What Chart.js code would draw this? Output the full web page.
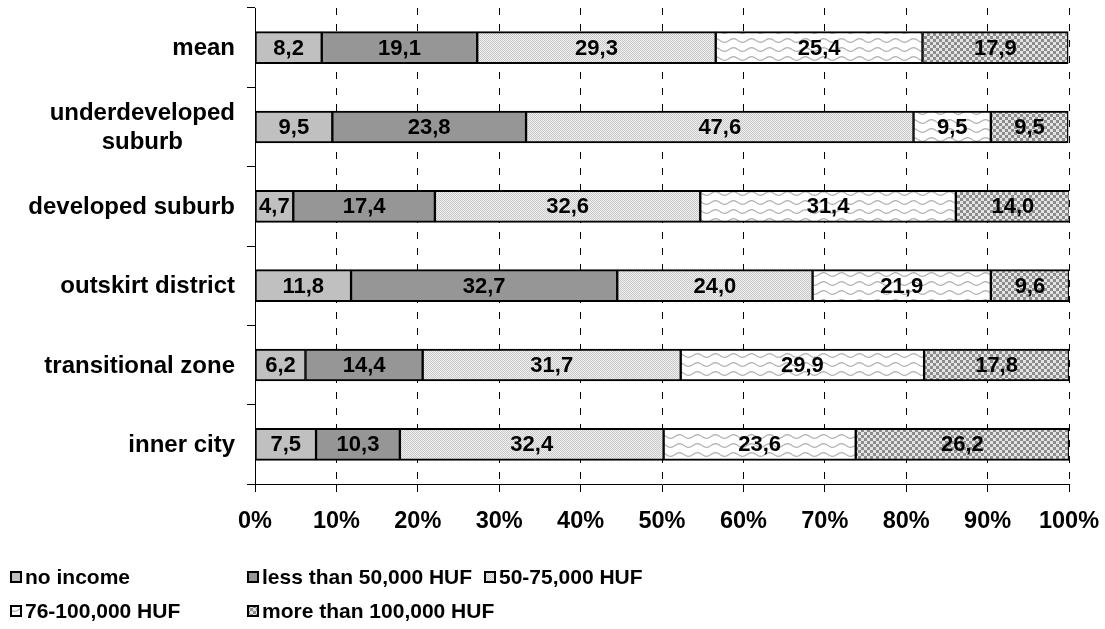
<!DOCTYPE html>
<html><head><meta charset="utf-8">
<script src="https://cdn.jsdelivr.net/npm/chart.js@4"></script>
<style>
html,body{margin:0;padding:0;background:#fff;}
#wrap{position:relative;width:1105px;height:629px;overflow:hidden;}
#c{position:absolute;left:0;top:0;}
.leg{position:absolute;height:30px;margin-top:-15px;font:bold 21px "Liberation Sans", Arial, sans-serif;color:#000;display:flex;align-items:center;white-space:nowrap;}
.leg canvas{display:block;margin-right:3px;}
</style></head>
<body><div id="wrap"><canvas id="c" width="1105" height="629"></canvas></div>
<script>
// ---- data ----
const categories = [["mean"], ["underdeveloped", "suburb"], ["developed suburb"], ["outskirt district"], ["transitional zone"], ["inner city"]];
const seriesNames = ["no income", "less than 50,000 HUF", "50-75,000 HUF", "76-100,000 HUF", "more than 100,000 HUF"];
const noIncome     = [8.2, 9.5, 4.7, 11.8, 6.2, 7.5];
const lessThan50k  = [19.1, 23.8, 17.4, 32.7, 14.4, 10.3];
const from50to75k  = [29.3, 47.6, 32.6, 24.0, 31.7, 32.4];
const from76to100k = [25.4, 9.5, 31.4, 21.9, 29.9, 23.6];
const moreThan100k = [17.9, 9.5, 14.0, 9.6, 17.8, 26.2];
const xTickLabels  = ["0%", "10%", "20%", "30%", "40%", "50%", "60%", "70%", "80%", "90%", "100%"];

const FONT = '"Liberation Sans", Arial, sans-serif';

// ---- fills ----
function makeTile(w, h, draw) {
  const c = document.createElement('canvas'); c.width = w; c.height = h;
  const g = c.getContext('2d'); draw(g, w, h); return c;
}
const tiles = [
  null,
  null,
  makeTile(2, 2, (g) => { g.fillStyle = '#f0f0f0'; g.fillRect(0,0,2,2); g.fillStyle = '#c8c8c8'; g.fillRect(0,0,1,1); g.fillRect(1,1,1,1); }),
  makeTile(18, 9, (g, w, h) => {
    g.fillStyle = '#ffffff'; g.fillRect(0,0,w,h);
    g.strokeStyle = '#b4b4b4'; g.lineWidth = 1.3; g.beginPath();
    for (let x = 0; x <= w; x += 0.5) { const y = 4.5 + 1.8 * Math.sin(x / w * 2 * Math.PI); if (x === 0) g.moveTo(x, y); else g.lineTo(x, y); }
    g.stroke();
  }),
  makeTile(6, 6, (g) => { g.fillStyle = '#e4e4e4'; g.fillRect(0,0,6,6); g.fillStyle = '#8c8c8c'; g.fillRect(0,0,3,3); g.fillRect(3,3,3,3); })
];
const solids = ['#c0c0c0', '#969696', null, null, null];
const ctxMain = document.getElementById('c').getContext('2d');
function fillFor(i, ctx) { return tiles[i] ? ctx.createPattern(tiles[i], 'repeat') : solids[i]; }

const seriesData = [noIncome, lessThan50k, from50to75k, from76to100k, moreThan100k];

const valueLabels = {
  id: 'valueLabels',
  afterDatasetsDraw(chart) {
    const ctx = chart.ctx; ctx.save();
    ctx.font = 'bold 22px ' + FONT; ctx.fillStyle = '#000'; ctx.textAlign = 'center'; ctx.textBaseline = 'middle';
    chart.data.datasets.forEach((ds, di) => {
      chart.getDatasetMeta(di).data.forEach((el, i) => {
        const p = el.getProps(['x', 'y', 'base'], true);
        ctx.fillText(ds.data[i].toFixed(1).replace('.', ','), (p.x + p.base) / 2, p.y + 1);
      });
    });
    ctx.restore();
  }
};
const catLabels = {
  id: 'catLabels',
  afterDraw(chart) {
    const ctx = chart.ctx, ys = chart.scales.y; ctx.save();
    ctx.font = 'bold 24px ' + FONT; ctx.fillStyle = '#000'; ctx.textAlign = 'center'; ctx.textBaseline = 'middle';
    const right = ys.right - 20, lh = 29;
    categories.forEach((lines, i) => {
      const cy = ys.getPixelForValue(i);
      const w = Math.max(...lines.map(l => ctx.measureText(l).width));
      lines.forEach((l, j) => ctx.fillText(l, right - w / 2, cy + (j - (lines.length - 1) / 2) * lh + 1));
    });
    ctx.restore();
  }
};

new Chart(ctxMain, {
  type: 'bar',
  data: {
    labels: categories.map(c => c.join(' ')),
    datasets: seriesNames.map((name, i) => ({
      label: name,
      data: seriesData[i],
      backgroundColor: fillFor(i, ctxMain),
      borderColor: '#000',
      borderWidth: { top: 2, bottom: 2, left: 1.5, right: 1.5 },
      borderSkipped: false,
      barThickness: 32
    }))
  },
  options: {
    indexAxis: 'y', responsive: false, animation: false, devicePixelRatio: 1,
    layout: { padding: { top: 8, right: 36, bottom: 85, left: 0 } },
    plugins: { legend: { display: false }, tooltip: { enabled: false } },
    scales: {
      x: {
        stacked: true, min: 0, max: 100,
        ticks: { stepSize: 10, padding: 15, color: '#000', font: { family: FONT, size: 23.5, weight: 'bold' },
                 callback: (v, i) => xTickLabels[i] },
        grid: { color: '#000', lineWidth: 1, tickLength: 8, tickColor: '#000' },
        border: { color: '#000', width: 1, dash: [7, 9] },
        afterFit(s) { s.height = 60; s.paddingLeft = 0; s.paddingRight = 0; }
      },
      y: {
        stacked: true,
        ticks: { display: false },
        grid: { drawOnChartArea: false, color: '#000', tickLength: 8, offset: true },
        border: { color: '#000', width: 1 },
        afterFit(s) { s.width = 255; s.paddingTop = 0; s.paddingBottom = 0; }
      }
    }
  },
  plugins: [valueLabels, catLabels]
});

// ---- legend ----
const legendPos = [[10, 577], [247, 577], [484, 577], [10, 611], [247, 611]];
const wrap = document.getElementById('wrap');
seriesNames.forEach((name, i) => {
  const d = document.createElement('div'); d.className = 'leg';
  d.style.left = legendPos[i][0] + 'px'; d.style.top = legendPos[i][1] + 'px';
  const sw = document.createElement('canvas'); sw.width = 12; sw.height = 12;
  const g = sw.getContext('2d');
  g.fillStyle = fillFor(i, g); g.fillRect(0, 0, 12, 12);
  g.strokeStyle = '#000'; g.lineWidth = 2; g.strokeRect(1, 1, 10, 10);
  const t = document.createElement('span'); t.textContent = name;
  d.appendChild(sw); d.appendChild(t); wrap.appendChild(d);
});
</script>
</body></html>
